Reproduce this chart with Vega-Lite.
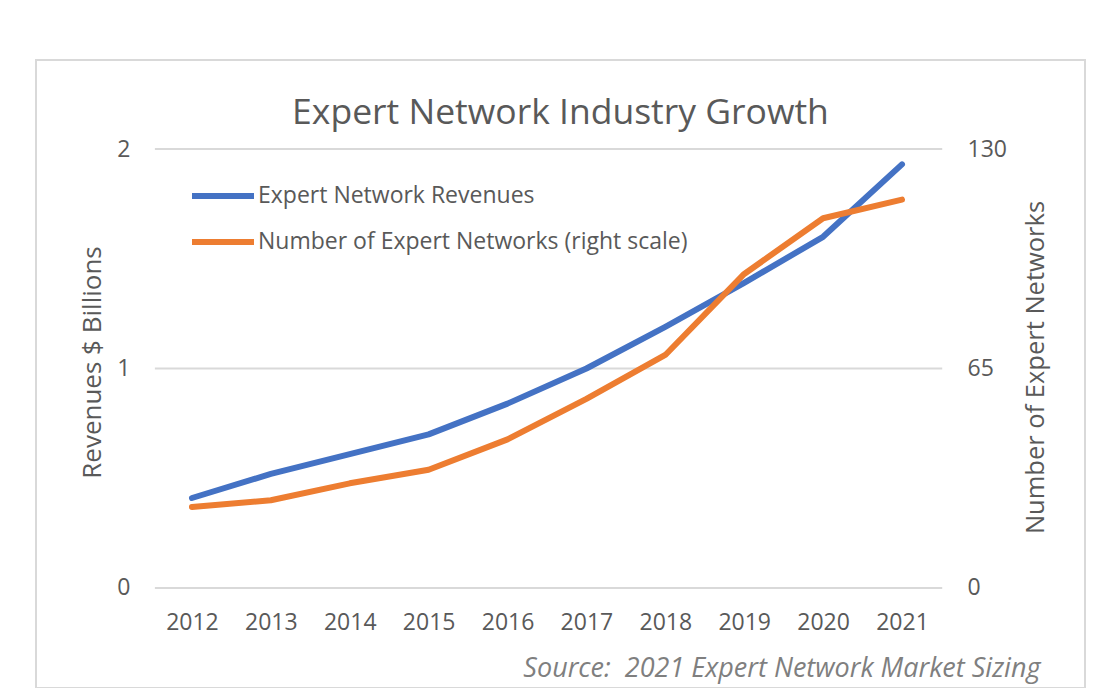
{
  "$schema": "https://vega.github.io/schema/vega-lite/v6.json",
  "width": 1049,
  "height": 628,
  "autosize": {"type": "none"},
  "padding": {"left": 36, "top": 60, "right": 14, "bottom": 0},
  "background": "white",
  "config": {
    "view": {"stroke": "#D9D9D9", "strokeWidth": 2},
    "font": "Open Sans"
  },
  "title": {
    "text": "Expert Network Industry Growth",
    "anchor": "middle",
    "frame": "group",
    "fontSize": 35.5,
    "fontWeight": "normal",
    "color": "#595959",
    "font": "Open Sans",
    "offset": -71
  },
  "datasets": {
    "growth": [
      {"year": 2012, "series": "Expert Network Revenues", "value": 0.41},
      {"year": 2013, "series": "Expert Network Revenues", "value": 0.52},
      {"year": 2014, "series": "Expert Network Revenues", "value": 0.61},
      {"year": 2015, "series": "Expert Network Revenues", "value": 0.70},
      {"year": 2016, "series": "Expert Network Revenues", "value": 0.84},
      {"year": 2017, "series": "Expert Network Revenues", "value": 1.00},
      {"year": 2018, "series": "Expert Network Revenues", "value": 1.19},
      {"year": 2019, "series": "Expert Network Revenues", "value": 1.39},
      {"year": 2020, "series": "Expert Network Revenues", "value": 1.60},
      {"year": 2021, "series": "Expert Network Revenues", "value": 1.93},
      {"year": 2012, "series": "Number of Expert Networks (right scale)", "value": 24},
      {"year": 2013, "series": "Number of Expert Networks (right scale)", "value": 26},
      {"year": 2014, "series": "Number of Expert Networks (right scale)", "value": 31},
      {"year": 2015, "series": "Number of Expert Networks (right scale)", "value": 35},
      {"year": 2016, "series": "Number of Expert Networks (right scale)", "value": 44},
      {"year": 2017, "series": "Number of Expert Networks (right scale)", "value": 56},
      {"year": 2018, "series": "Number of Expert Networks (right scale)", "value": 69},
      {"year": 2019, "series": "Number of Expert Networks (right scale)", "value": 93},
      {"year": 2020, "series": "Number of Expert Networks (right scale)", "value": 109.5},
      {"year": 2021, "series": "Number of Expert Networks (right scale)", "value": 115}
    ],
    "gridlines": [{"g": 0}, {"g": 1}, {"g": 2}]
  },
  "layer": [
    {
      "data": {"name": "gridlines"},
      "mark": {"type": "rule", "color": "#D9D9D9", "strokeWidth": 2},
      "encoding": {
        "y": {
          "field": "g",
          "type": "quantitative",
          "scale": {"domain": [-0.4556, 2.4055], "nice": false, "zero": false},
          "axis": {
            "values": [0, 1, 2],
            "orient": "left",
            "offset": -94,
            "domain": false,
            "ticks": false,
            "tickSize": 0,
            "labelPadding": 0,
            "grid": false,
            "labelFlush": false,
            "labelOverlap": false,
            "labelFontSize": 23,
            "labelColor": "#595959",
            "labelFont": "Open Sans",
            "title": "Revenues $ Billions",
            "titleFont": "Open Sans",
            "titleFontSize": 26,
            "titleFontWeight": "normal",
            "titleColor": "#595959",
            "titleX": -38,
            "titleY": 302,
            "titleAngle": 270,
            "titleAlign": "center",
            "titleBaseline": "middle"
          }
        },
        "x": {
          "datum": 2011.53,
          "type": "quantitative",
          "scale": {"domain": [2010.023, 2023.32], "nice": false, "zero": false},
          "axis": {
            "values": [2012, 2013, 2014, 2015, 2016, 2017, 2018, 2019, 2020, 2021],
            "format": "d",
            "offset": -77,
            "domain": false,
            "ticks": false,
            "tickSize": 0,
            "labelPadding": 0,
            "grid": false,
            "labelFlush": false,
            "labelOverlap": false,
            "labelFontSize": 23,
            "labelColor": "#595959",
            "labelFont": "Open Sans",
            "title": "Source:\u00a0 2021 Expert Network Market Sizing",
            "titleFont": "Open Sans",
            "titleFontStyle": "italic",
            "titleFontSize": 27,
            "titleFontWeight": "normal",
            "titleColor": "#7F7F7F",
            "titleX": 1004,
            "titleY": 57,
            "titleAlign": "right",
            "titleBaseline": "middle"
          }
        },
        "x2": {"datum": 2021.51}
      }
    },
    {
      "data": {"name": "growth"},
      "transform": [{"filter": "datum.series === 'Expert Network Revenues'"}],
      "mark": {"type": "line", "strokeWidth": 6, "strokeCap": "round", "strokeJoin": "round"},
      "encoding": {
        "x": {
          "field": "year",
          "type": "quantitative",
          "scale": {"domain": [2010.023, 2023.32], "nice": false, "zero": false}
        },
        "y": {
          "field": "value",
          "type": "quantitative",
          "scale": {"domain": [-0.4556, 2.4055], "nice": false, "zero": false},
          "axis": null
        },
        "color": {
          "field": "series",
          "type": "nominal",
          "scale": {
            "domain": ["Expert Network Revenues", "Number of Expert Networks (right scale)"],
            "range": ["#4472C4", "#ED7D31"]
          },
          "legend": {
            "orient": "none",
            "legendX": 153,
            "legendY": 102,
            "title": null,
            "symbolType": "stroke",
            "symbolSize": 3844,
            "symbolStrokeWidth": 6,
            "labelFontSize": 23,
            "labelColor": "#595959",
            "labelFont": "Open Sans",
            "labelOffset": 1,
            "labelLimit": 0,
            "rowPadding": -21,
            "padding": 0
          }
        }
      }
    },
    {
      "data": {"name": "growth"},
      "transform": [{"filter": "datum.series === 'Number of Expert Networks (right scale)'"}],
      "mark": {"type": "line", "strokeWidth": 6, "strokeCap": "round", "strokeJoin": "round"},
      "encoding": {
        "x": {
          "field": "year",
          "type": "quantitative",
          "scale": {"domain": [2010.023, 2023.32], "nice": false, "zero": false}
        },
        "y": {
          "field": "value",
          "type": "quantitative",
          "scale": {"domain": [-29.613, 156.356], "nice": false, "zero": false},
          "axis": {
            "values": [0, 65, 130],
            "orient": "right",
            "offset": -118,
            "domain": false,
            "ticks": false,
            "tickSize": 0,
            "labelPadding": 0,
            "grid": false,
            "labelFlush": false,
            "labelOverlap": false,
            "labelFontSize": 23,
            "labelColor": "#595959",
            "labelFont": "Open Sans",
            "title": "Number of Expert Networks",
            "titleFont": "Open Sans",
            "titleFontSize": 25.5,
            "titleFontWeight": "normal",
            "titleColor": "#595959",
            "titleX": 68,
            "titleY": 307,
            "titleAngle": 270,
            "titleAlign": "center",
            "titleBaseline": "middle"
          }
        },
        "color": {
          "field": "series",
          "type": "nominal",
          "scale": {
            "domain": ["Expert Network Revenues", "Number of Expert Networks (right scale)"],
            "range": ["#4472C4", "#ED7D31"]
          },
          "legend": {
            "orient": "none",
            "legendX": 153,
            "legendY": 102,
            "title": null,
            "symbolType": "stroke",
            "symbolSize": 3844,
            "symbolStrokeWidth": 6,
            "labelFontSize": 23,
            "labelColor": "#595959",
            "labelFont": "Open Sans",
            "labelOffset": 1,
            "labelLimit": 0,
            "rowPadding": -21,
            "padding": 0
          }
        }
      }
    }
  ],
  "resolve": {"scale": {"y": "independent"}, "axis": {"y": "independent"}}
}
